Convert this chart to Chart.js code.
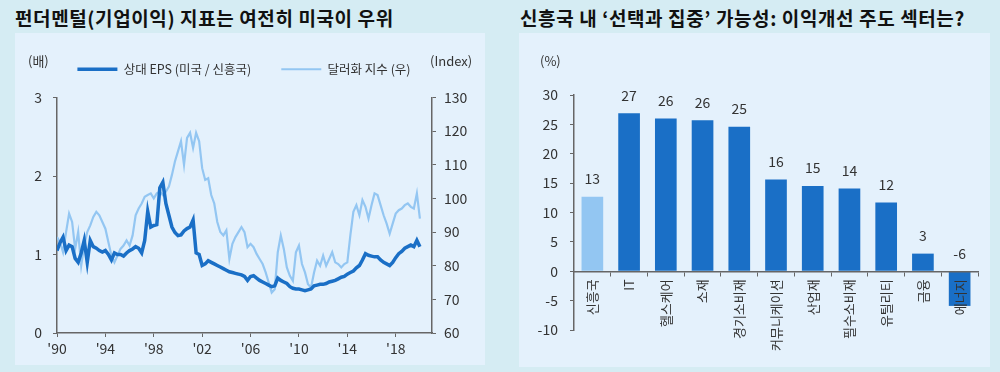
<!DOCTYPE html>
<html>
<head>
<meta charset="utf-8">
<script src="https://cdn.jsdelivr.net/npm/chart.js@4.4.0/dist/chart.umd.min.js"></script>
<style>
  body {
    margin: 0;
    width: 1000px;
    height: 372px;
    background: #d5ecf3;
    position: relative;
    overflow: hidden;
    font-family: "Noto Sans CJK KR", "Noto Sans", sans-serif;
  }
  .title {
    position: absolute;
    top: 4px;
    font-size: 19px;
    letter-spacing: 0.6px;
    font-weight: bold;
    color: #111;
    white-space: nowrap;
  }
  .panel {
    position: absolute;
    top: 33px;
    background: #e4f1fc;
  }
  .unit {
    position: absolute;
    top: 21px;
    font-size: 13px;
    line-height: 1;
    color: #333;
  }
</style>
</head>
<body>
<div class="title" style="left:15px">펀더멘털(기업이익) 지표는 여전히 미국이 우위</div>
<div class="title" style="left:520px">신흥국 내 ‘선택과 집중’ 가능성: 이익개선 주도 섹터는?</div>

<div class="panel" style="left:15px;width:470px;height:332px">
  <canvas id="leftChart"></canvas>
  <span class="unit" style="left:13px">(배)</span>
  <span class="unit" style="left:415px">(Index)</span>
</div>

<div class="panel" style="left:519px;width:471px;height:334px">
  <canvas id="rightChart"></canvas>
  <span class="unit" style="left:21px">(%)</span>
</div>

<script>
const FONT = '"Noto Sans CJK KR", "Noto Sans", sans-serif';
const DARK = "#1a6fc6";
const LIGHT = "#93c6f2";
const AXIS = "#666";
const TEXT = "#333";

// left chart: quarterly values from 1990 Q1
const startYear = 1990;
const yearTicks = [1990, 1994, 1998, 2002, 2006, 2010, 2014, 2018];

// 상대 EPS (미국 / 신흥국), 배
const epsRatio = [
  1.05, 1.15, 1.22, 1.05, 1.12, 1.1, 0.95, 0.9, 1.02, 1.18,
  0.9, 1.18, 1.1, 1.08, 1.05, 1.03, 1.05, 1.0, 0.93, 1.02,
  1.0, 1.0, 0.98, 1.02, 1.05, 1.07, 1.1, 1.08, 1.02, 1.18,
  1.55, 1.35, 1.37, 1.38, 1.85, 1.92, 1.65, 1.5, 1.35, 1.28,
  1.24, 1.25, 1.3, 1.33, 1.35, 1.44, 1.02, 1.0, 0.86, 0.88,
  0.92, 0.9, 0.88, 0.86, 0.84, 0.82, 0.8, 0.78, 0.77, 0.76,
  0.75, 0.74, 0.72, 0.67, 0.72, 0.73, 0.7, 0.67, 0.65, 0.63,
  0.61, 0.59, 0.6, 0.7, 0.67, 0.65, 0.63, 0.59, 0.57, 0.56,
  0.56, 0.55, 0.54, 0.55, 0.56, 0.6, 0.61, 0.62, 0.62, 0.63,
  0.65, 0.66, 0.67, 0.69, 0.71, 0.72, 0.75, 0.77, 0.79, 0.83,
  0.86, 0.93, 1.01, 0.99, 0.98, 0.97, 0.97, 0.93, 0.9, 0.88,
  0.86, 0.9, 0.96, 1.01, 1.04, 1.08, 1.1, 1.12, 1.1, 1.18,
  1.1
];

// 달러화 지수 (우), Index
const dollarIndex = [
  88.5, 87, 84, 90, 95.5, 93, 85, 90, 80, 86,
  90, 92, 94.5, 96, 95, 93, 91, 87, 83, 81,
  83, 85, 86, 87.5, 86, 89, 95, 97, 98.5, 100.5,
  101, 101.5, 100, 101.5, 102, 101, 102, 103.5, 107, 111,
  114, 117, 110, 118, 119.5, 115, 119.5, 117, 109, 105.5,
  106, 101, 98.5, 93, 90, 89, 90.5, 82, 86.5, 88.5,
  90, 91.5, 90, 85.5, 86.5, 85.5, 83.5, 82, 80.5, 78,
  75, 72, 73, 84, 89, 85, 79.5, 77, 75.5, 84,
  86, 80.5, 78, 74.5, 73.5, 78, 81.5, 80, 83, 80,
  82, 84, 81, 80.5, 79.5, 80.5, 81, 89, 96, 98,
  95, 99.5, 97.5, 94, 98, 101.5, 101, 98, 95, 92.5,
  89.5, 92.5, 95.5, 96.5, 97, 98, 98.5, 97.5, 97, 101.5,
  94
];

// right chart
const sectors = ["신흥국", "IT", "헬스케어", "소재", "경기소비재", "커뮤니케이션",
  "산업재", "필수소비재", "유틸리티", "금융", "에너지"];
const growth = [12.7, 26.9, 26.0, 25.7, 24.6, 15.6, 14.5, 14.1, 11.7, 3.0, -5.9];

const toPoints = (arr) => arr.map((v, i) => ({ x: startYear + i / 4, y: v }));

const tickFont = { family: FONT, size: 14 };

new Chart(document.getElementById("leftChart"), {
  type: "line",
  data: {
    datasets: [
      {
        label: "상대 EPS (미국 / 신흥국)",
        data: toPoints(epsRatio),
        borderColor: DARK,
        backgroundColor: DARK,
        borderWidth: 3.5,
        pointRadius: 0,
        tension: 0,
        yAxisID: "y",
      },
      {
        label: "달러화 지수 (우)",
        data: toPoints(dollarIndex),
        borderColor: LIGHT,
        backgroundColor: LIGHT,
        borderWidth: 2.2,
        pointRadius: 0,
        tension: 0,
        yAxisID: "y2",
      },
    ],
  },
  options: {
    responsive: true,
    maintainAspectRatio: false,
    animation: false,
    layout: { padding: { top: 0, left: 0, right: 12, bottom: 0 } },
    plugins: {
      tooltip: { enabled: false },
      legend: {
        labels: {
          usePointStyle: true,
          pointStyle: "line",
          pointStyleWidth: 40,
          padding: 30,
          color: TEXT,
          font: { family: FONT, size: 12.5 },
        },
      },
    },
    scales: {
      x: {
        type: "linear",
        min: 1990,
        max: 2021,
        afterBuildTicks: (s) => {
          s.ticks = yearTicks.map((v) => ({ value: v }));
        },
        afterFit: (s) => {
          s.height = 32;
        },
        grid: { drawOnChartArea: false, tickLength: 4, color: AXIS },
        border: { color: AXIS, width: 1.5 },
        ticks: {
          callback: (v) => "'" + String(v).slice(2),
          maxRotation: 0,
          padding: 3,
          color: TEXT,
          font: tickFont,
        },
      },
      // empty band between legend and plot
      spacer: {
        type: "linear",
        position: "top",
        display: true,
        grid: { display: false },
        border: { display: false },
        ticks: { display: false },
        afterFit: (s) => {
          s.height = 12;
        },
      },
      y: {
        position: "left",
        min: 0,
        max: 3,
        afterFit: (s) => {
          s.width = 42;
        },
        grid: { drawOnChartArea: false, tickLength: 4, color: AXIS },
        border: { color: AXIS, width: 1.5 },
        ticks: { stepSize: 1, padding: 11, color: TEXT, font: tickFont },
      },
      y2: {
        position: "right",
        min: 60,
        max: 130,
        afterFit: (s) => {
          s.width = 41;
        },
        grid: { drawOnChartArea: false, tickLength: 4, color: AXIS },
        border: { color: AXIS, width: 1.5 },
        ticks: { stepSize: 10, padding: 8, color: TEXT, font: tickFont },
      },
    },
  },
});

const barLabels = {
  id: "barLabels",
  afterDatasetsDraw(chart) {
    const { ctx } = chart;
    const meta = chart.getDatasetMeta(0);
    ctx.save();
    ctx.font = "14px " + FONT;
    ctx.fillStyle = TEXT;
    ctx.textAlign = "center";
    ctx.textBaseline = "middle";
    meta.data.forEach((bar, i) => {
      const top = Math.min(bar.y, bar.base);
      ctx.fillText(String(Math.round(growth[i])), bar.x, top - 18);
    });
    ctx.restore();
  },
};

new Chart(document.getElementById("rightChart"), {
  type: "bar",
  data: {
    labels: sectors,
    datasets: [
      {
        data: growth,
        backgroundColor: sectors.map((s, i) => (i === 0 ? LIGHT : DARK)),
        barPercentage: 0.59,
        categoryPercentage: 1,
      },
    ],
  },
  options: {
    responsive: true,
    maintainAspectRatio: false,
    animation: false,
    layout: { padding: { top: 62, left: 0, right: 12, bottom: 37 } },
    plugins: {
      legend: { display: false },
      tooltip: { enabled: false },
    },
    scales: {
      x: {
        position: { y: 0 },
        grid: { drawOnChartArea: false, tickLength: 4, color: AXIS, offset: true, z: 1 },
        border: { color: AXIS, width: 1.5, z: 1 },
        ticks: {
          z: 1,
          autoSkip: false,
          minRotation: 90,
          maxRotation: 90,
          padding: 4,
          color: TEXT,
          font: { family: FONT, size: 13 },
        },
      },
      y: {
        min: -10,
        max: 30,
        afterFit: (s) => {
          s.width = 55;
        },
        grid: { drawOnChartArea: false, tickLength: 4, color: AXIS },
        border: { color: AXIS, width: 1.5 },
        ticks: { stepSize: 5, padding: 12, color: TEXT, font: tickFont },
      },
    },
  },
  plugins: [barLabels],
});
</script>
</body>
</html>
